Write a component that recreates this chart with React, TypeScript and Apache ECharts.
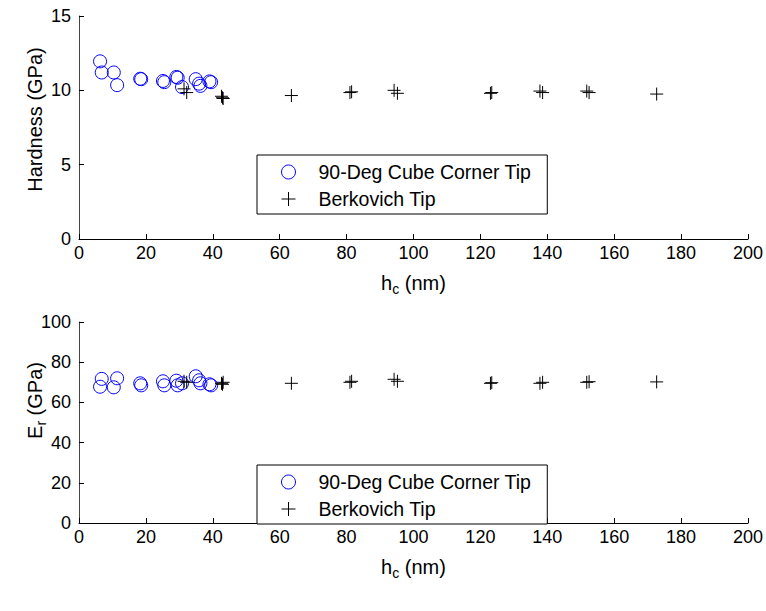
import React, { useEffect, useRef } from 'react';
import * as echarts from 'echarts';

// 90-Deg Cube Corner Tip
const cubeHc = [6.3, 6.8, 10.4, 11.4, 18.3, 18.6, 25.1, 25.5, 29.1, 29.5, 30.8, 34.9, 35.9, 36.3, 39.0, 39.5];
const cubeH = [11.95, 11.2, 11.2, 10.35, 10.78, 10.75, 10.63, 10.55, 10.9, 10.85, 10.22, 10.75, 10.45, 10.3, 10.6, 10.55];
const cubeEr = [67.8, 71.7, 67.5, 72, 69.5, 68.5, 70.5, 68.5, 70.8, 68.5, 69.5, 73, 71, 69.5, 69, 68.5];
// Berkovich Tip
const berkHc = [31.4, 32.2, 42.6, 42.9, 43.1, 63.5, 81.0, 81.5, 94.2, 95.2, 123.0, 123.4, 137.8, 138.6, 151.8, 152.5, 172.7];
const berkH = [10.1, 9.85, 9.6, 9.5, 9.45, 9.65, 9.85, 9.9, 10.0, 9.8, 9.8, 9.85, 9.95, 9.85, 9.95, 9.85, 9.75];
const berkEr = [70.5, 70, 69.5, 69, 70, 69.5, 70, 70.5, 71.5, 70.5, 69.5, 69.8, 69.5, 70, 70, 70.3, 70.2];

const seriesNames = ['90-Deg Cube Corner Tip', 'Berkovich Tip'];

const FONT = '"Liberation Sans", Arial, Helvetica, sans-serif';
const CROSS = 'path://M0,6H12M6,0V12';
const BLUE = '#0000ff';

const zip = (xs: number[], ys: number[]) => xs.map((x, i) => [x, ys[i]]);

const richBase = {
  a: { fontSize: 20, fontFamily: FONT, color: '#000', lineHeight: 26, verticalAlign: 'middle' },
  s: { fontSize: 14, fontFamily: FONT, color: '#000', lineHeight: 14, verticalAlign: 'bottom' },
};

function xAxis(gridIndex: number) {
  return {
    type: 'value', gridIndex, min: 0, max: 200, interval: 20,
    axisLine: { show: true, onZero: false, lineStyle: { color: '#000', width: 1 } },
    axisTick: { show: true, inside: true, length: 5, lineStyle: { color: '#000' } },
    axisLabel: { color: '#000', fontSize: 18, fontFamily: FONT, margin: 5 },
    splitLine: { show: false },
    name: '{a|h}{s|c}{a| (nm)}', nameLocation: 'middle', nameGap: 31,
    nameMoveOverlap: false,
    nameTextStyle: { rich: richBase },
  };
}

function yAxis(gridIndex: number, max: number, interval: number, name: string, shiftUp: number) {
  return {
    type: 'value', gridIndex, min: 0, max, interval,
    axisLine: { show: true, onZero: false, lineStyle: { color: '#444', width: 1 } },
    axisTick: { show: true, inside: true, length: 5, lineStyle: { color: '#000' } },
    axisLabel: { color: '#000', fontSize: 18, fontFamily: FONT, margin: 8 },
    splitLine: { show: false },
    name, nameLocation: 'middle', nameGap: 31, nameRotate: 90,
    nameMoveOverlap: false,
    nameTextStyle: { rich: richBase, padding: [0, 0, 0, shiftUp * 2] },
  };
}

function legend(top: number) {
  return {
    left: 257, top, orient: 'vertical',
    itemWidth: 50, itemHeight: 14, itemGap: 7,
    padding: [7, 16, 5, 24],
    borderColor: '#000', borderWidth: 1, backgroundColor: '#fff',
    textStyle: { fontSize: 19.5, fontFamily: FONT, color: '#000', lineHeight: 14 },
    selectedMode: false,
    data: [
      { name: seriesNames[0], icon: 'circle', itemStyle: { color: 'transparent', borderColor: BLUE, borderWidth: 1 } },
      { name: seriesNames[1], icon: CROSS, itemStyle: { color: 'transparent', borderColor: '#000', borderWidth: 1 } },
    ],
  };
}

function circleSeries(xi: number, data: number[][]) {
  return {
    type: 'scatter', name: seriesNames[0], xAxisIndex: xi, yAxisIndex: xi, data,
    symbol: 'circle', symbolSize: 13,
    itemStyle: { color: 'transparent', borderColor: BLUE, borderWidth: 1, opacity: 1 },
    emphasis: { disabled: true },
  };
}

function crossSeries(xi: number, data: number[][]) {
  return {
    type: 'scatter', name: seriesNames[1], xAxisIndex: xi, yAxisIndex: xi, data,
    symbol: CROSS, symbolSize: 13,
    itemStyle: { color: 'transparent', borderColor: '#000', borderWidth: 1, opacity: 1 },
    emphasis: { disabled: true },
  };
}

export default function App() {
  const ref = useRef<HTMLDivElement>(null);
  useEffect(() => {
    if (!ref.current) return;
    const chart = echarts.init(ref.current, undefined, { renderer: 'svg' });
    chart.setOption({
      animation: false,
      backgroundColor: '#fff',
      textStyle: { fontFamily: FONT },
      grid: [
        { left: 79, top: 16, width: 671, height: 223 },
        { left: 79, top: 322, width: 671, height: 201 },
      ],
      xAxis: [xAxis(0), xAxis(1)],
      yAxis: [
        yAxis(0, 15, 5, '{a|Hardness (GPa)}', 8),
        yAxis(1, 100, 20, '{a|E}{s|r}{a| (GPa)}', 22),
      ],
      legend: [legend(155), legend(465)],
      series: [
        circleSeries(0, zip(cubeHc, cubeH)),
        crossSeries(0, zip(berkHc, berkH)),
        circleSeries(1, zip(cubeHc, cubeEr)),
        crossSeries(1, zip(berkHc, berkEr)),
      ],
    });
    return () => chart.dispose();
  }, []);
  return (
    <div
      ref={ref}
      style={{ position: 'fixed', left: 0, top: 0, width: 766, height: 611, background: '#fff' }}
    />
  );
}
